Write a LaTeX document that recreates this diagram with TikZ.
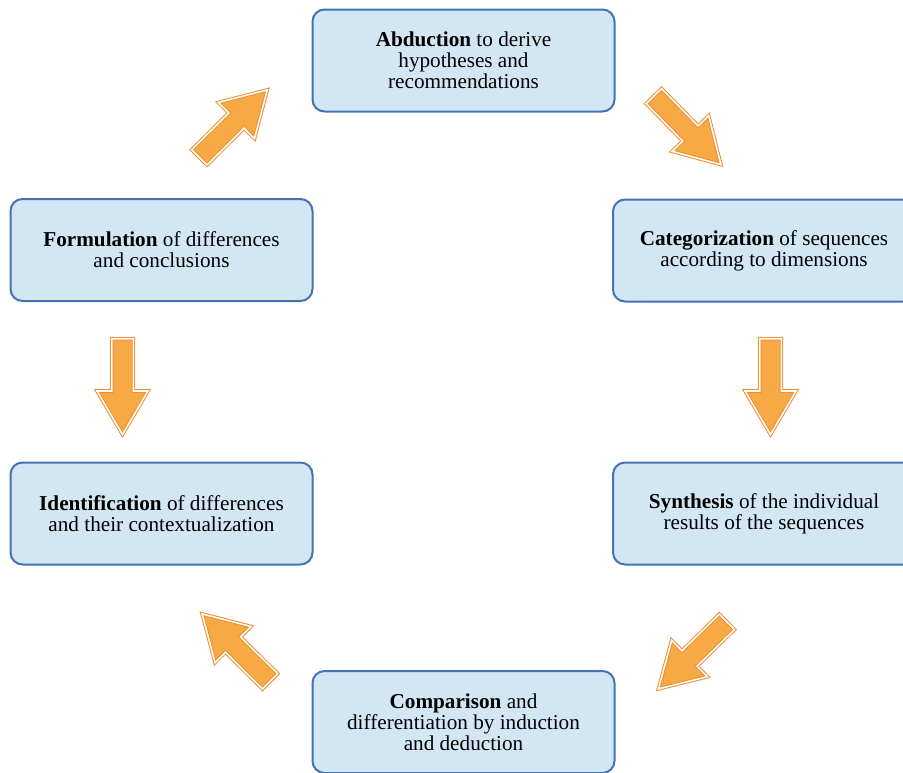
\documentclass[tikz,border=0pt]{standalone}
\usepackage{fontspec}
\setmainfont{Liberation Serif}
\definecolor{boxfill}{RGB}{211,230,244}
\definecolor{boxline}{RGB}{68,114,180}
\definecolor{arrfill}{RGB}{247,169,70}
\definecolor{arrline}{RGB}{242,140,45}

\begin{document}
\begin{tikzpicture}[x=0.5pt, y=-0.5pt,
  stepbox/.style={draw=boxline, fill=boxfill, line width=1pt, rounded corners=6pt,
    minimum width=151pt, minimum height=51pt, align=center, inner sep=0pt,
    font=\fontsize{10.6}{10.6}\selectfont},
  blockarrow/.style={draw=arrline, fill=arrfill, line width=0.5pt,
    double=white, double distance=0.8pt, line join=miter}]
  \useasboundingbox (0,0) rectangle (903,772);
  \clip (0,0) rectangle (903,772);
  \node[stepbox] (abd) at (463.5,60.5) {\textbf{Abduction} to derive\\ hypotheses and\\ recommendations};
  \node[stepbox] (cat) at (764,250.5) {\textbf{Categorization} of sequences\\ according to dimensions};
  \node[stepbox] (syn) at (764,513.5) {\textbf{Synthesis} of the individual\\ results of the sequences};
  \node[stepbox] (cmp) at (463.5,722) {\textbf{Comparison} and\\ differentiation by induction\\ and deduction};
  \node[stepbox] (idf) at (161.5,513.5) {\textbf{Identification} of differences\\ and their contextualization};
  \node[stepbox] (frm) at (161.5,250) {\textbf{Formulation} of differences\\ and conclusions};
  % block arrows: centre x / centre y / direction
  \foreach \cx/\cy/\ang in {688/131/-45.6, 770.5/387.5/-90, 692/656/-135.6,
      235.5/647/135.2, 122.5/387.5/-90, 234/123/44.8}
    \draw[blockarrow, shift={(\cx,\cy)}, rotate=\ang]
      (-48.8,-10.8) -- (3.5,-10.8) -- (3.5,-25.5) -- (47,0)
      -- (3.5,25.5) -- (3.5,10.8) -- (-48.8,10.8) -- cycle;
\end{tikzpicture}
\end{document}
